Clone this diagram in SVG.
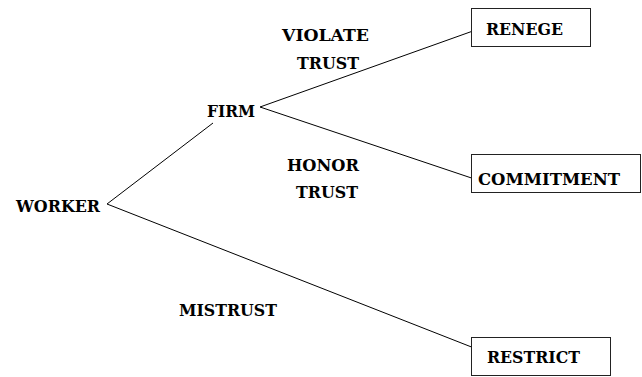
<svg xmlns="http://www.w3.org/2000/svg" width="642" height="377" viewBox="0 0 642 377">
<style>
text{font-family:'DejaVu Serif',serif;font-weight:bold;font-size:17px;fill:#000}
.box{fill:#fff;stroke:#222;stroke-width:1}
.edge{stroke:#000;stroke-width:1;fill:none}
</style>
<rect width="642" height="377" fill="#fff"/>
<g id="connectors">
<line class="edge" x1="107" y1="204" x2="213" y2="123"/>
<line class="edge" x1="107" y1="204" x2="471.5" y2="347"/>
<line class="edge" x1="260" y1="107" x2="471.5" y2="31.5"/>
<line class="edge" x1="260" y1="107" x2="471.5" y2="178"/>
</g>
<g id="worker"><text x="16" y="212" textLength="84" lengthAdjust="spacingAndGlyphs">WORKER</text></g>
<g id="firm"><text x="207" y="117" textLength="48" lengthAdjust="spacingAndGlyphs">FIRM</text></g>
<g id="label-violate"><text x="282" y="41" textLength="87" lengthAdjust="spacingAndGlyphs">VIOLATE</text><text x="297" y="69" textLength="62" lengthAdjust="spacingAndGlyphs">TRUST</text></g>
<g id="label-honor"><text x="287" y="171" textLength="72" lengthAdjust="spacingAndGlyphs">HONOR</text><text x="296" y="198" textLength="62" lengthAdjust="spacingAndGlyphs">TRUST</text></g>
<g id="label-mistrust"><text x="179" y="316" textLength="98" lengthAdjust="spacingAndGlyphs">MISTRUST</text></g>
<g id="renege"><rect class="box" x="471.5" y="8.5" width="119" height="38"/><text x="486" y="35" textLength="77" lengthAdjust="spacingAndGlyphs">RENEGE</text></g>
<g id="commitment"><rect class="box" x="471.5" y="154.5" width="169" height="38"/><text x="478" y="185" textLength="142" lengthAdjust="spacingAndGlyphs">COMMITMENT</text></g>
<g id="restrict"><rect class="box" x="471.5" y="337.5" width="139" height="38"/><text x="487" y="363" textLength="93" lengthAdjust="spacingAndGlyphs">RESTRICT</text></g>
</svg>
